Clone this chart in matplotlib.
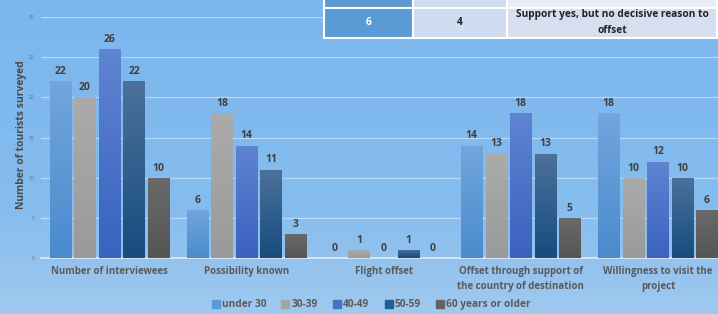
import numpy as np
import matplotlib
matplotlib.use("Agg")
import matplotlib.pyplot as plt
from matplotlib.colors import LinearSegmentedColormap
from matplotlib.lines import Line2D

# chart data
categories = ["Number of interviewees", "Possibility known", "Flight offset",
              "Offset through support of\nthe country of destination",
              "Willingness to visit the\nproject"]
age_groups = ["under 30", "30-39", "40-49", "50-59", "60 years or older"]
under_30 = [22, 6, 0, 14, 18]
age_30_39 = [20, 18, 1, 13, 10]
age_40_49 = [26, 14, 0, 18, 12]
age_50_59 = [22, 11, 1, 13, 10]
age_60_plus = [10, 3, 0, 5, 6]
series = [under_30, age_30_39, age_40_49, age_50_59, age_60_plus]
y_ticks = [0, 5, 10, 15, 20, 25, 30]

# table fragment at the top right
table_rows = [["", "", "Project type"],
              ["6", "4", "Support yes, but no decisive reason to\noffset"]]

# (top colour, bottom colour) for each series
bar_colors = [("#72a6dd", "#4a8bcd"), ("#ababab", "#9a9a9a"), ("#5f84d1", "#3a62bf"),
              ("#4c719c", "#174c7e"), ("#6a6a6a", "#555555")]
legend_colors = ["#5b9bd5", "#a5a5a5", "#4472c4", "#255e91", "#636363"]

plt.rcParams['font.family'] = ['Open Sans', 'DejaVu Sans']

fig = plt.figure(figsize=(7.18, 3.14), dpi=100)

# sky background
bg = fig.add_axes([0, 0, 1, 1], zorder=-10)
sky = LinearSegmentedColormap.from_list("sky", ["#7bb6ed", "#7fb9ee", "#86bdee", "#a0c9ef"])
grad = np.linspace(0, 1, 256).reshape(-1, 1)
bg.imshow(grad, aspect="auto", cmap=sky, extent=[0, 1, 0, 1], origin="upper")
bg.set_axis_off()

ax = fig.add_axes([41 / 718, 56 / 314, 685.5 / 718, 241 / 314])
ax.patch.set_alpha(0)

x = np.arange(len(categories))
pitch = 0.179
width = 0.157
for i, (vals, (c_top, c_bot)) in enumerate(zip(series, bar_colors)):
    bars = ax.bar(x + (i - 2) * pitch, vals, width, color=c_bot, zorder=3,
                  label=age_groups[i])
    cmap = LinearSegmentedColormap.from_list("g%d" % i, [c_top, c_bot])
    for b, v in zip(bars, vals):
        if v > 0:
            im = ax.imshow(grad, aspect="auto", cmap=cmap, zorder=3.5,
                           extent=[b.get_x(), b.get_x() + b.get_width(), 0, v],
                           origin="upper")
            im.set_clip_path(b)
        ax.annotate(str(v), (b.get_x() + b.get_width() / 2, v), xytext=(0, 3),
                    textcoords="offset points", ha="center", va="bottom",
                    fontsize=7.5, fontweight="bold", color="#404040", zorder=5)

ax.set_xlim(-0.5, len(categories) - 0.5)
ax.set_ylim(0, 30)
ax.set_yticks(y_ticks)
ax.set_yticklabels([str(t) for t in y_ticks], fontsize=3.5, color="#55708f")
ax.tick_params(axis="y", length=0, pad=5)
ax.tick_params(axis="x", length=0, pad=6)
ax.set_xticks(x)
ax.set_xticklabels(categories, fontsize=7, fontweight="bold", color="#5a5a5a",
                   linespacing=1.45)
ax.grid(axis="y", color="white", alpha=0.45, linewidth=0.9, zorder=1)
for s in ["top", "right", "left"]:
    ax.spines[s].set_visible(False)
ax.spines["bottom"].set_color("#dfe6ee")
ax.spines["bottom"].set_linewidth(1.3)
ax.set_ylabel("Number of tourists surveyed", fontsize=7.5, fontweight="bold",
              color="#4a4a4a")
ax.yaxis.set_label_coords(-0.021, 0.51)

# legend
handles = [Line2D([], [], marker="s", linestyle="none", markersize=6,
                  markerfacecolor=c, markeredgecolor=c) for c in legend_colors]
fig.legend(handles, age_groups, loc="center", bbox_to_anchor=(0.517, 0.03), ncol=5,
           frameon=False, handlelength=0.8, handletextpad=0.2, columnspacing=1.5,
           prop={"weight": "bold", "size": 7.3}, labelcolor="#5a5a5a")

# table
tax = fig.add_axes([324 / 718, (314 - 38) / 314, 393 / 718, 61 / 314])
tax.set_axis_off()
cell_colors = [["#5b9bd5", "#d0dcef", "#e8edf6"],
               ["#5b9bd5", "#d0dcef", "#d5dff0"]]
tbl = tax.table(cellText=table_rows, cellColours=cell_colors, cellLoc="center",
                colWidths=[89, 94, 210], bbox=[0, 0, 1, 1])
tbl.auto_set_font_size(False)
for (r, c), cell in tbl.get_celld().items():
    cell.set_edgecolor("white")
    cell.set_linewidth(1.5)
    txt = cell.get_text()
    txt.set_fontsize(7.3)
    txt.set_fontweight("bold")
    txt.set_linespacing(1.6)
    txt.set_color("white" if c == 0 else "#222222")

fig.savefig("out.png", dpi=100)
